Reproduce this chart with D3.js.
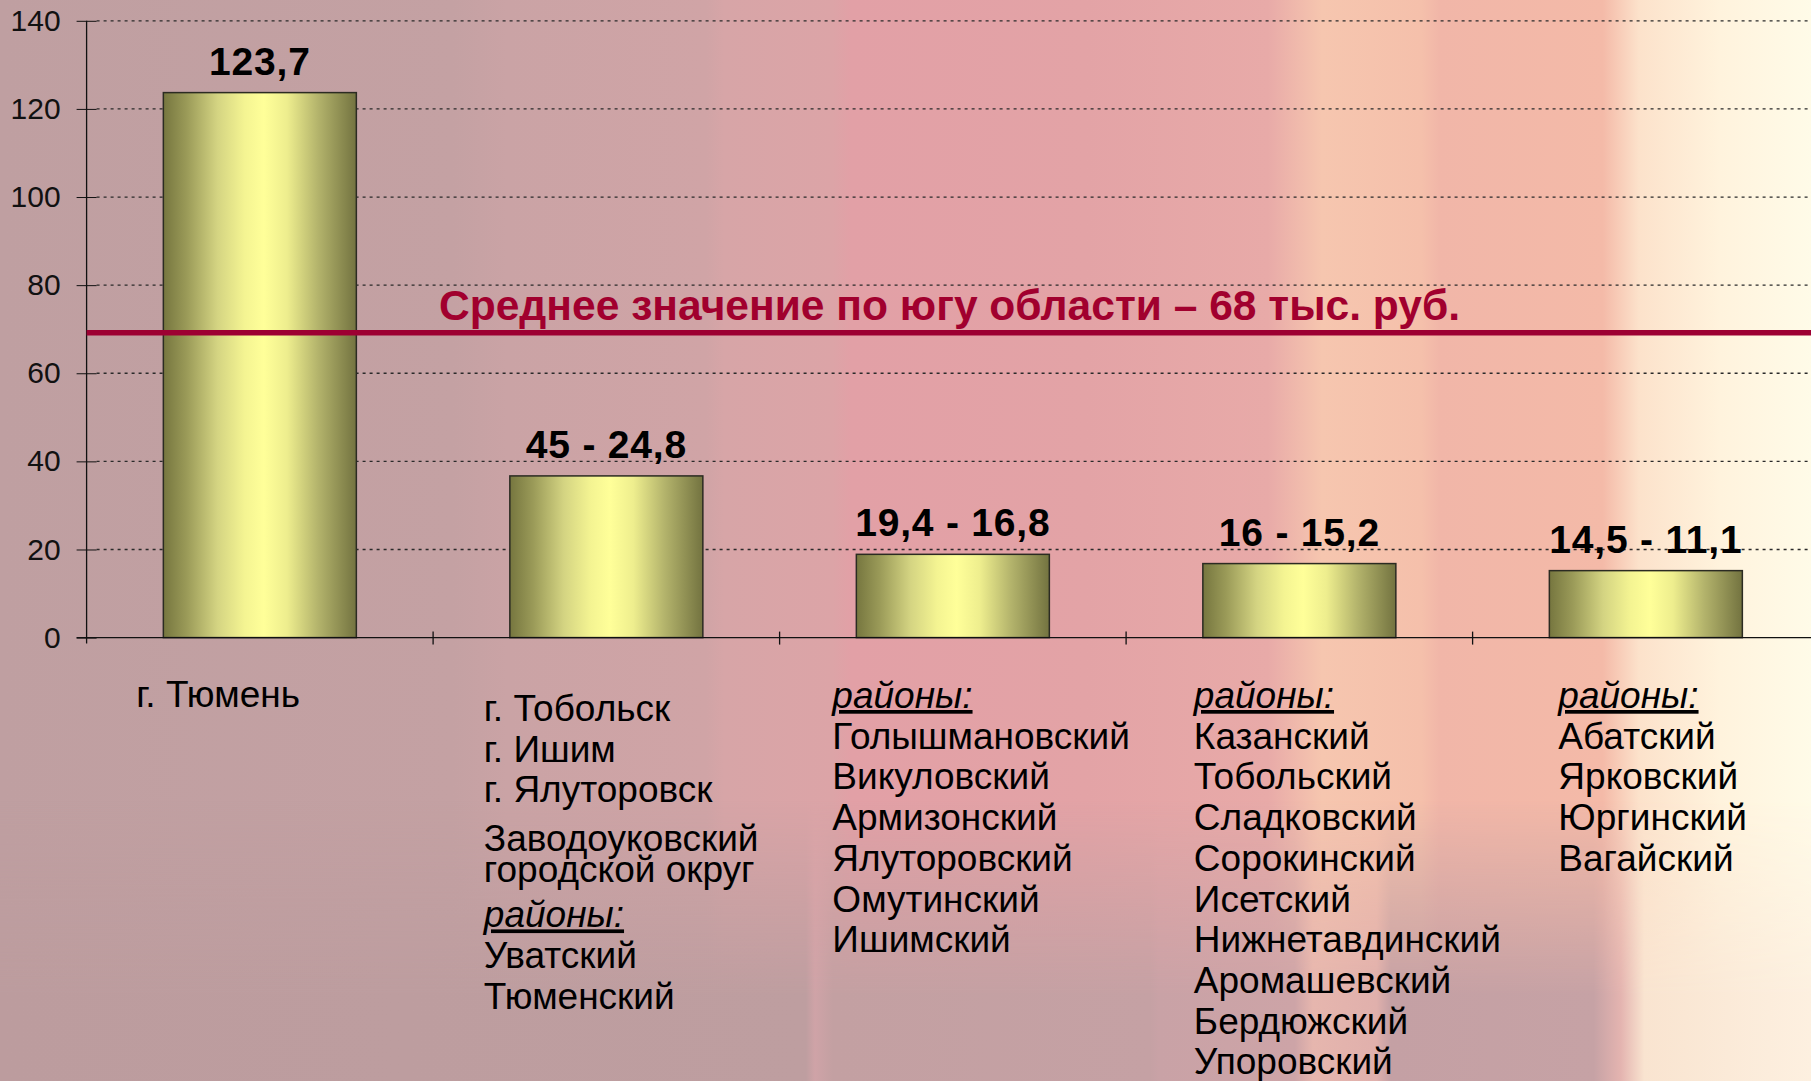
<!DOCTYPE html>
<html>
<head>
<meta charset="utf-8">
<script src="https://cdn.jsdelivr.net/npm/d3@7"></script>
<style>
  html, body { margin: 0; padding: 0; background: #c0a0a2; }
  svg { display: block; }
  text { font-family: "Liberation Sans", Arial, sans-serif; }
</style>
</head>
<body>
<div id="chart"></div>
<script>
// chart data
var categories = ["Тюмень", "Тобольск", "Голышманово", "Казанское", "Абатское"];
var barValues = [123.7, 36.7, 18.9, 16.8, 15.2];
var barLabels = ["123,7", "45 - 24,8", "19,4 - 16,8", "16 - 15,2", "14,5 - 11,1"];
var yTicks = [0, 20, 40, 60, 80, 100, 120, 140];
var averageValue = 69.2;
var averageLabel = "Среднее значение по югу области – 68 тыс. руб.";

// lines under each bar; "районы:" is a heading, inner arrays are one wrapped item
var categoryLines = [
    ["г. Тюмень"],
    ["г. Тобольск", "г. Ишим", "г. Ялуторовск", ["Заводоуковский", "городской округ"], "районы:", "Уватский", "Тюменский"],
    ["районы:", "Голышмановский", "Викуловский", "Армизонский", "Ялуторовский", "Омутинский", "Ишимский"],
    ["районы:", "Казанский", "Тобольский", "Сладковский", "Сорокинский", "Исетский", "Нижнетавдинский", "Аромашевский", "Бердюжский", "Упоровский"],
    ["районы:", "Абатский", "Ярковский", "Юргинский", "Вагайский"]
];

var width = 1811, height = 1081;
var axisX = 86.6, step = 346.5;

var svg = d3.select("#chart")
    .append("svg")
    .attr("width", width)
    .attr("height", height);

var defs = svg.append("defs");

function addGradient(id, stops, vertical) {
    var g = defs.append("linearGradient")
        .attr("id", id)
        .attr("x1", 0).attr("y1", 0)
        .attr("x2", vertical ? 0 : 1).attr("y2", vertical ? 1 : 0);
    stops.forEach(function (s) {
        g.append("stop")
            .attr("offset", s[0])
            .attr("stop-color", s[1])
            .attr("stop-opacity", s.length > 2 ? s[2] : 1);
    });
}

// background, roughly following the slide picture
addGradient("bgTop", [
    ["0%", "#bf9fa1"], ["25%", "#c4a1a3"], ["28%", "#caa3a5"], ["39%", "#d0a4a6"],
    ["40%", "#d7a5a7"], ["46%", "#dca4a7"], ["47%", "#e2a0a6"], ["60%", "#e3a3a6"],
    ["70%", "#e8aaa8"], ["73%", "#f6c6af"], ["78.5%", "#f5c0ab"], ["79.5%", "#f1b6a8"],
    ["88.5%", "#f4baa8"], ["90.5%", "#fce2cb"], ["95%", "#fff3dd"], ["100%", "#fffbe8"]
]);
addGradient("bgBottom", [
    ["0%", "#bc9c9e"], ["44.5%", "#be9ea0"], ["45%", "#cfa3a7"], ["46%", "#c3a0a2"],
    ["63.5%", "#c5a1a4"], ["64%", "#c9a2a6"], ["71.5%", "#cda4a7"], ["72.5%", "#e6b6ae"],
    ["76%", "#e0b0ac"], ["76.8%", "#c4a0a4"], ["88%", "#c6a2a5"], ["89.5%", "#e4b4b0"],
    ["90.8%", "#f9e4d0"], ["100%", "#fdf0e0"]
]);
// lower part of the slide turns mauve again
addGradient("bgFade", [
    ["0%", "#fff", 0], ["74%", "#fff", 0], ["92%", "#fff", 1], ["100%", "#fff", 1]
], true);
defs.append("mask").attr("id", "bgMask")
    .append("rect")
    .attr("width", width).attr("height", height)
    .attr("fill", "url(#bgFade)");

addGradient("barGrad", [
    ["0%", "#76763f"], ["12%", "#9a9a58"], ["28%", "#d4d482"], ["42%", "#f4f492"],
    ["52%", "#ffff99"], ["64%", "#eeee8e"], ["80%", "#b4b46c"], ["100%", "#737340"]
]);

svg.append("rect")
    .attr("width", width).attr("height", height)
    .attr("fill", "url(#bgTop)");
svg.append("rect")
    .attr("width", width).attr("height", height)
    .attr("fill", "url(#bgBottom)")
    .attr("mask", "url(#bgMask)");

// scales
var x = d3.scaleBand()
    .domain(categories)
    .range([axisX, axisX + step * categories.length])
    .paddingInner(0.443)
    .paddingOuter(0.2215);

var y = d3.scaleLinear()
    .domain([0, 140])
    .range([637.6, 20.8]);

// dotted grid lines
svg.append("g")
    .selectAll("line")
    .data(yTicks.filter(function (d) { return d > 0; }))
    .enter()
    .append("line")
    .attr("x1", axisX + 10)
    .attr("x2", width)
    .attr("y1", function (d) { return y(d); })
    .attr("y2", function (d) { return y(d); })
    .attr("stroke", "#2a2a2a")
    .attr("stroke-width", 1.3)
    .attr("stroke-dasharray", "3,4");

// Y axis
var yAxis = svg.append("g")
    .attr("transform", "translate(" + axisX + ",0)")
    .call(d3.axisLeft(y).tickValues(yTicks).tickSize(10).tickPadding(16));
yAxis.select(".domain").remove();
yAxis.selectAll(".tick line").attr("x2", 10).attr("x1", -10).attr("stroke", "#111");
yAxis.selectAll("text")
    .attr("font-size", 30)
    .attr("fill", "#111")
    .style("font-family", "'Liberation Sans', Arial, sans-serif");
svg.append("line")
    .attr("x1", axisX).attr("x2", axisX)
    .attr("y1", y(140)).attr("y2", y(0) + 6)
    .attr("stroke", "#111").attr("stroke-width", 1.3);

// bars
svg.append("g")
    .selectAll("rect")
    .data(barValues)
    .enter()
    .append("rect")
    .attr("x", function (d, i) { return x(categories[i]); })
    .attr("width", x.bandwidth())
    .attr("y", function (d) { return y(d); })
    .attr("height", function (d) { return y(0) - y(d); })
    .attr("fill", "url(#barGrad)")
    .attr("stroke", "#2b2b22")
    .attr("stroke-width", 1.5);

// X axis
svg.append("line")
    .attr("x1", axisX - 10).attr("x2", width)
    .attr("y1", y(0)).attr("y2", y(0))
    .attr("stroke", "#111").attr("stroke-width", 1.3);
var gap = x.step() - x.bandwidth();
svg.append("g")
    .selectAll("line")
    .data(categories.slice(1))
    .enter()
    .append("line")
    .attr("x1", function (d) { return x(d) - gap / 2; })
    .attr("x2", function (d) { return x(d) - gap / 2; })
    .attr("y1", y(0) - 6)
    .attr("y2", y(0) + 7)
    .attr("stroke", "#111")
    .attr("stroke-width", 1.3);

// value labels
svg.append("g")
    .selectAll("text")
    .data(barValues)
    .enter()
    .append("text")
    .attr("x", function (d, i) { return x(categories[i]) + x.bandwidth() / 2; })
    .attr("y", function (d) { return y(d) - 18; })
    .attr("text-anchor", "middle")
    .attr("font-size", 39)
    .attr("font-weight", "bold")
    .attr("letter-spacing", 0.8)
    .attr("fill", "#000")
    .text(function (d, i) { return barLabels[i]; });

// average line
svg.append("line")
    .attr("x1", axisX).attr("x2", width)
    .attr("y1", y(averageValue)).attr("y2", y(averageValue))
    .attr("stroke", "#9d0032")
    .attr("stroke-width", 5.5);
svg.append("text")
    .attr("x", 439)
    .attr("y", y(averageValue) - 12.5)
    .attr("font-size", 42)
    .attr("font-weight", "bold")
    .attr("fill", "#a1002e")
    .attr("textLength", 1021)
    .attr("lengthAdjust", "spacingAndGlyphs")
    .text(averageLabel);

// category lists under the axis
var colOffset = [-27, -26, -24, -9, 9];
var colTop = [707, 721, 708, 708, 708];
var lineStep = 40.7;

categoryLines.forEach(function (lines, i) {
    var g = svg.append("g")
        .attr("transform", "translate(" + (x(categories[i]) + colOffset[i]) + "," + colTop[i] + ")");
    var yy = 0;
    lines.forEach(function (item, k) {
        var parts = Array.isArray(item) ? item : [item];
        if (k > 0) {
            var prev = lines[k - 1];
            if (parts.length > 1) yy += 49;
            else if (Array.isArray(prev)) yy += 45;
            else yy += lineStep;
        }
        parts.forEach(function (p, j) {
            var t = g.append("text")
                .attr("x", 0)
                .attr("y", yy + j * 31)
                .attr("font-size", 37)
                .attr("fill", "#000")
                .text(p);
            if (p === "районы:") {
                t.attr("font-style", "italic")
                    .style("text-decoration", "underline");
            }
        });
        yy += (parts.length - 1) * 31;
    });
});
</script>
</body>
</html>
